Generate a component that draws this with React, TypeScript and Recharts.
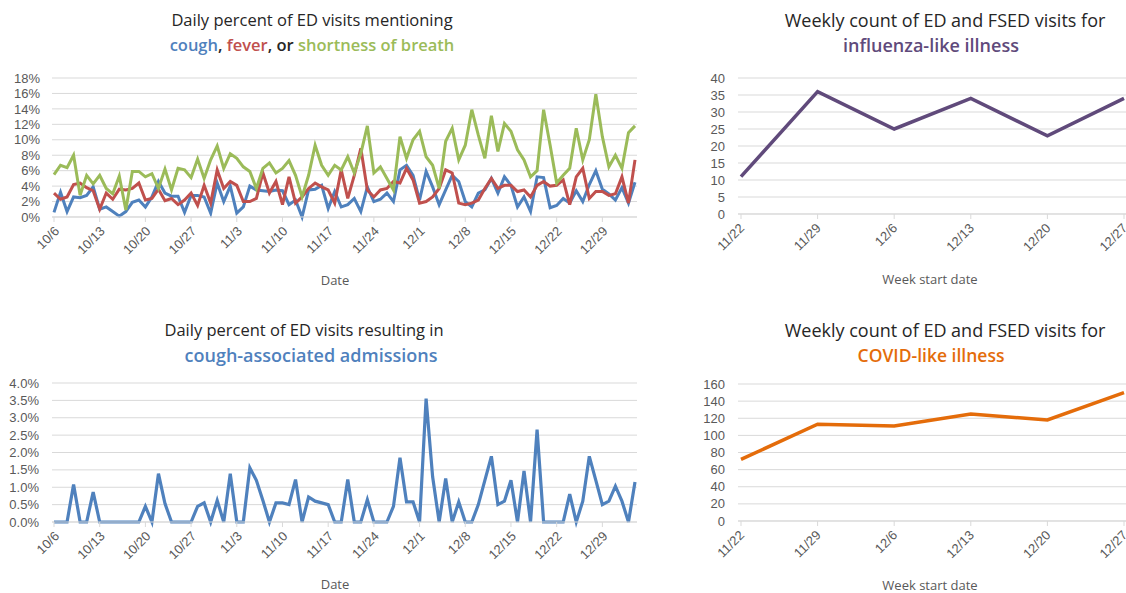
import { LineChart, Line, XAxis, YAxis, CartesianGrid } from "recharts";

// daily series start 10/6, one value per day
const START = { month: 10, day: 6 };
const MONTH_DAYS: Record<number, number> = { 10: 31, 11: 30, 12: 31, 1: 31 };

const coughPct = [
  0.6, 3.2, 0.7, 2.6, 2.5, 2.8, 3.9, 1.0, 1.3, 0.7, 0.1, 0.7, 1.9, 2.2, 1.3, 2.6, 4.6, 3.1, 2.7, 2.7,
  0.6, 2.8, 2.8, 2.6, 0.5, 4.4, 2.0, 4.0, 0.5, 1.3, 4.0, 3.5, 3.4, 3.3, 3.5, 3.4, 1.6, 2.2, 0.0, 3.5,
  3.6, 4.1, 1.1, 3.3, 1.3, 1.6, 2.4, 0.7, 3.9, 2.0, 2.3, 3.1, 2.0, 6.1, 6.7, 5.4, 2.2, 5.9, 3.9, 1.6,
  3.5, 5.4, 4.6, 2.0, 1.3, 3.1, 3.5, 5.0, 3.1, 5.2, 4.1, 1.3, 2.6, 0.7, 5.2, 5.1, 1.2, 1.5, 2.4, 1.8,
  3.4, 2.0, 4.2, 6.0, 3.6, 3.0, 2.2, 3.8, 1.8, 4.5,
];
const feverPct = [
  3.1, 2.3, 2.6, 4.2, 4.4, 3.8, 3.4, 1.0, 3.1, 2.3, 3.6, 3.5, 3.7, 4.4, 2.2, 2.4, 3.6, 2.1, 2.4, 1.6,
  2.2, 3.1, 1.5, 4.1, 1.8, 6.1, 3.7, 4.6, 4.1, 2.0, 2.0, 2.4, 5.7, 3.1, 4.6, 1.6, 5.2, 1.8, 2.6, 3.7,
  4.4, 3.9, 3.5, 1.8, 6.1, 2.4, 5.4, 8.9, 3.5, 2.6, 3.5, 3.7, 4.6, 4.4, 6.3, 4.8, 1.8, 2.0, 2.6, 3.7,
  6.1, 5.7, 1.8, 1.6, 1.8, 2.2, 3.7, 5.0, 3.7, 4.1, 4.1, 3.3, 3.5, 2.6, 4.1, 4.6, 4.0, 4.1, 4.8, 1.6,
  5.2, 6.3, 2.4, 3.3, 3.3, 2.8, 3.0, 5.2, 1.8, 7.4,
];
const breathPct = [
  5.5, 6.7, 6.4, 8.0, 2.8, 5.4, 4.3, 5.4, 3.7, 3.0, 5.3, 0.9, 5.9, 5.9, 5.2, 5.6, 3.7, 6.2, 3.5, 6.3,
  6.1, 5.1, 7.5, 5.0, 7.4, 9.2, 6.3, 8.2, 7.6, 6.5, 5.9, 3.7, 6.3, 7.0, 5.7, 6.3, 7.3, 5.4, 2.6, 5.4,
  9.3, 6.7, 5.4, 6.7, 6.1, 7.8, 5.7, 8.2, 11.8, 5.7, 6.5, 5.0, 3.5, 10.4, 7.6, 10.0, 11.1, 7.8, 6.7, 3.7,
  9.8, 11.5, 7.4, 9.3, 13.9, 10.6, 7.6, 13.1, 8.5, 12.1, 11.1, 8.7, 7.4, 5.2, 6.0, 13.9, 9.3, 4.4, 5.4, 6.3,
  11.5, 7.4, 10.0, 15.9, 10.4, 6.5, 8.0, 6.3, 10.9, 11.8,
];
const admitPct = [
  0, 0, 0, 1.08, 0, 0, 0.86, 0, 0, 0, 0, 0, 0, 0, 0.45, 0, 1.39, 0.53, 0, 0,
  0, 0, 0.45, 0.55, 0, 0.62, 0, 1.39, 0, 0, 1.56, 1.2, 0.62, 0, 0.55, 0.55, 0.5, 1.22, 0, 0.72,
  0.6, 0.55, 0.5, 0, 0, 1.22, 0, 0, 0.64, 0, 0, 0, 0.45, 1.85, 0.58, 0.58, 0, 3.55, 1.3, 0,
  1.25, 0, 0.58, 0, 0, 0.5, 1.2, 1.89, 0.5, 0.6, 1.2, 0, 1.47, 0, 2.66, 0, 0, 0, 0, 0.8,
  0, 0.6, 1.89, 1.2, 0.5, 0.6, 1.03, 0.6, 0, 1.15,
];

const weeks = ["11/22", "11/29", "12/6", "12/13", "12/20", "12/27"];
const iliCounts = [11, 36, 25, 34, 23, 34];
const cliCounts = [72, 113, 111, 125, 118, 150];

const pctTicks = [0, 2, 4, 6, 8, 10, 12, 14, 16, 18];
const admitTicks = [0, 0.5, 1, 1.5, 2, 2.5, 3, 3.5, 4];
const iliTicks = [0, 5, 10, 15, 20, 25, 30, 35, 40];
const cliTicks = [0, 20, 40, 60, 80, 100, 120, 140, 160];

const dates: string[] = [];
{
  let m = START.month;
  let d = START.day;
  for (let i = 0; i < coughPct.length; i++) {
    dates.push(`${m}/${d}`);
    d++;
    if (d > MONTH_DAYS[m]) {
      m = m === 12 ? 1 : m + 1;
      d = 1;
    }
  }
}

const dailyData = dates.map((date, i) => ({
  date,
  cough: coughPct[i],
  fever: feverPct[i],
  breath: breathPct[i],
  admit: admitPct[i],
}));
const weeklyData = weeks.map((week, i) => ({ week, ili: iliCounts[i], cli: cliCounts[i] }));

const BLUE = "#4f81bd";
const RED = "#c0504d";
const GREEN = "#9bbb59";
const PURPLE = "#604a7b";
const ORANGE = "#e46c0a";
const GRID = "#d9d9d9";
const TICK = "#595959";
const TITLE_FONT = "'Open Sans', sans-serif";
const TICK_FONT = "'Liberation Sans', Arial, sans-serif";

function SlantTick(props: any) {
  const { x, y, payload, ox = 4, oy = 8 } = props;
  return (
    <g transform={`translate(${x + ox},${y + oy})`}>
      <text
        x={0}
        y={0}
        textAnchor="end"
        transform="rotate(-45)"
        fill={TICK}
        fontSize={13}
        fontFamily={TICK_FONT}
      >
        {payload.value}
      </text>
    </g>
  );
}

const yTick = { fill: TICK, fontSize: 13, fontFamily: TICK_FONT };

function Title(props: {
  left: number;
  top: number;
  width: number;
  size: number;
  children: any;
  big?: boolean;
}) {
  return (
    <div
      style={{
        position: "absolute",
        left: props.left,
        top: props.top,
        width: props.width,
        textAlign: "center",
        fontFamily: TITLE_FONT,
        fontSize: props.size,
        fontWeight: props.big ? 600 : 400,
        color: "#262626",
        whiteSpace: "nowrap",
        lineHeight: "20px",
      }}
    >
      {props.children}
    </div>
  );
}

function AxisName(props: { left: number; top: number; text: string }) {
  return (
    <div
      style={{
        position: "absolute",
        left: props.left - 100,
        top: props.top,
        width: 200,
        textAlign: "center",
        fontFamily: TITLE_FONT,
        fontSize: 13,
        color: TICK,
        lineHeight: "16px",
      }}
    >
      {props.text}
    </div>
  );
}

export default function App() {
  return (
    <div
      style={{
        position: "absolute",
        left: 0,
        top: 0,
        width: 1126,
        height: 593,
        overflow: "hidden",
        background: "#fff",
      }}
    >
      {/* top left: symptom mentions */}
      <Title left={12} top={10} width={600} size={16.5}>
        Daily percent of ED visits mentioning
      </Title>
      <Title left={12} top={35} width={600} size={16.5} big>
        <span style={{ color: BLUE }}>cough</span>, <span style={{ color: RED }}>fever</span>, or{" "}
        <span style={{ color: GREEN }}>shortness of breath</span>
      </Title>
      <div style={{ position: "absolute", left: 0, top: 0 }}>
        <LineChart width={650} height={300} data={dailyData} margin={{ top: 78, right: 13, bottom: 23, left: 0 }}>
          <CartesianGrid vertical={false} stroke={GRID} />
          <XAxis
            dataKey="date"
            interval={6}
            padding={{ left: 2, right: 2 }}
            stroke={GRID}
            tickSize={5}
            tickMargin={2}
            height={60}
            tick={<SlantTick ox={6} oy={8} />}
          />
          <YAxis
            domain={[0, 18]}
            ticks={pctTicks}
            interval={0}
            tickFormatter={(v) => `${v}%`}
            axisLine={false}
            tickLine={false}
            tickMargin={6}
            width={52}
            tick={yTick}
          />
          <Line dataKey="cough" stroke={BLUE} strokeWidth={3} dot={false} isAnimationActive={false} />
          <Line dataKey="fever" stroke={RED} strokeWidth={3} dot={false} isAnimationActive={false} />
          <Line dataKey="breath" stroke={GREEN} strokeWidth={3} dot={false} isAnimationActive={false} />
        </LineChart>
      </div>
      <AxisName left={335} top={272} text="Date" />

      {/* bottom left: admissions */}
      <Title left={4} top={320} width={600} size={16.5}>
        Daily percent of ED visits resulting in
      </Title>
      <Title left={11} top={345} width={600} size={18} big>
        <span style={{ color: BLUE }}>cough-associated admissions</span>
      </Title>
      <div style={{ position: "absolute", left: 0, top: 300 }}>
        <LineChart width={650} height={293} data={dailyData} margin={{ top: 83, right: 13, bottom: 11, left: 0 }}>
          <CartesianGrid vertical={false} stroke={GRID} />
          <XAxis
            dataKey="date"
            interval={6}
            padding={{ left: 2, right: 2 }}
            stroke={GRID}
            tickSize={5}
            tickMargin={2}
            height={60}
            tick={<SlantTick ox={6} oy={8} />}
          />
          <YAxis
            domain={[0, 4]}
            ticks={admitTicks}
            interval={0}
            tickFormatter={(v) => `${v.toFixed(1)}%`}
            axisLine={false}
            tickLine={false}
            tickMargin={7}
            width={52}
            tick={yTick}
          />
          <Line dataKey="admit" stroke={BLUE} strokeWidth={3.2} dot={false} isAnimationActive={false} />
        </LineChart>
      </div>
      <AxisName left={335} top={576} text="Date" />

      {/* top right: ILI */}
      <Title left={645} top={10} width={600} size={18}>
        Weekly count of ED and FSED visits for
      </Title>
      <Title left={631} top={35} width={600} size={18} big>
        <span style={{ color: PURPLE }}>influenza-like illness</span>
      </Title>
      <div style={{ position: "absolute", left: 680, top: 0 }}>
        <LineChart width={520} height={300} data={weeklyData} margin={{ top: 78, right: 36, bottom: 26, left: 0 }}>
          <CartesianGrid vertical={false} stroke={GRID} />
          <XAxis
            dataKey="week"
            padding={{ left: 3, right: 40 }}
            stroke={GRID}
            tickSize={5}
            tickMargin={2}
            height={60}
            tick={<SlantTick ox={4} oy={8} />}
          />
          <YAxis
            domain={[0, 40]}
            ticks={iliTicks}
            interval={0}
            axisLine={false}
            tickLine={false}
            tickMargin={7}
            width={58}
            tick={yTick}
          />
          <Line dataKey="ili" stroke={PURPLE} strokeWidth={3.5} dot={false} isAnimationActive={false} />
        </LineChart>
      </div>
      <AxisName left={930} top={271} text="Week start date" />

      {/* bottom right: CLI */}
      <Title left={645} top={320} width={600} size={18}>
        Weekly count of ED and FSED visits for
      </Title>
      <Title left={631} top={345} width={600} size={17.5} big>
        <span style={{ color: ORANGE }}>COVID-like illness</span>
      </Title>
      <div style={{ position: "absolute", left: 680, top: 300 }}>
        <LineChart width={520} height={293} data={weeklyData} margin={{ top: 84, right: 36, bottom: 12, left: 0 }}>
          <CartesianGrid vertical={false} stroke={GRID} />
          <XAxis
            dataKey="week"
            padding={{ left: 3, right: 40 }}
            stroke={GRID}
            tickSize={5}
            tickMargin={2}
            height={60}
            tick={<SlantTick ox={4} oy={8} />}
          />
          <YAxis
            domain={[0, 160]}
            ticks={cliTicks}
            interval={0}
            axisLine={false}
            tickLine={false}
            tickMargin={7}
            width={58}
            tick={yTick}
          />
          <Line dataKey="cli" stroke={ORANGE} strokeWidth={3.5} dot={false} isAnimationActive={false} />
        </LineChart>
      </div>
      <AxisName left={930} top={577} text="Week start date" />
    </div>
  );
}
